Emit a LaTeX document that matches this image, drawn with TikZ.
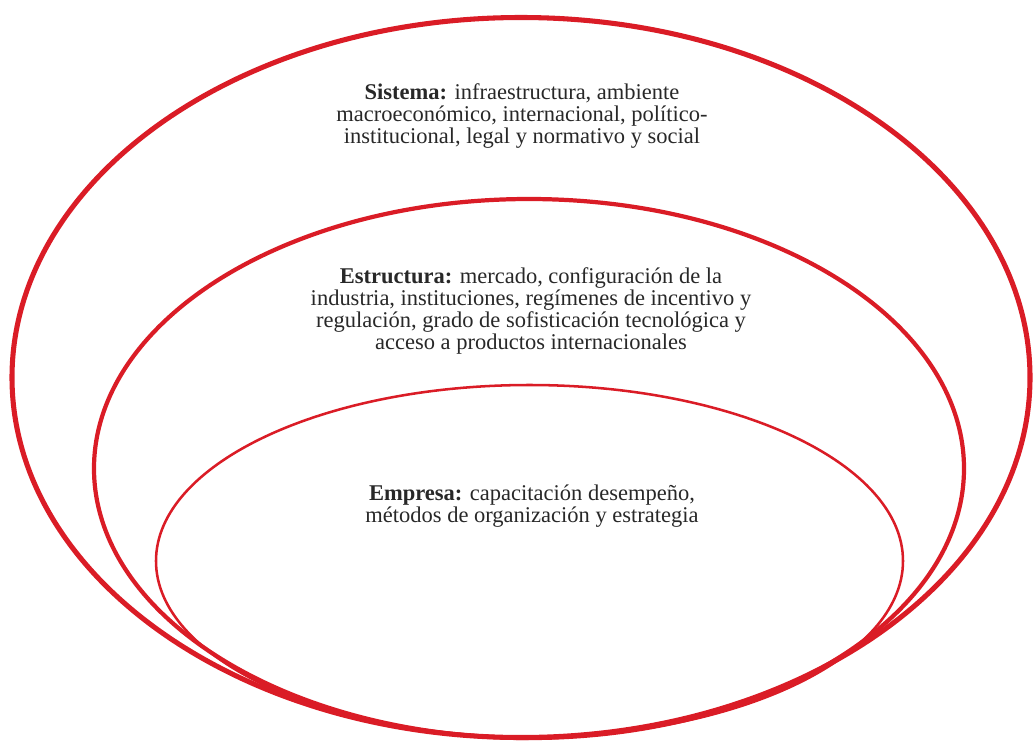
\documentclass[tikz,border=0pt]{standalone}
\usepackage{fontspec}
\setmainfont{Liberation Serif}

\definecolor{anillo}{RGB}{218,28,38}
\definecolor{texto}{RGB}{40,40,40}

\tikzset{
  anillo/.style={draw=anillo},
  capa/.style={align=center, text=texto, inner sep=0pt,
    font=\fontsize{16}{15.6}\selectfont}
}

\begin{document}
\begin{tikzpicture}[x=0.025cm, y=-0.025cm]
  \useasboundingbox (0,0) rectangle (1034,744);
  % the three levels, nested and all touching at the bottom
  \draw[anillo, line width=3.6pt] (521,377.5) ellipse [x radius=509, y radius=360];   %sistema
  \draw[anillo, line width=3pt] (529,468.5) ellipse [x radius=435, y radius=269.5];   %estructura
  \draw[anillo, line width=1.8pt] (529.5,561) ellipse [x radius=373.5, y radius=176]; %empresa
  % one text per level
  \node[capa] (sistema) at (522,116) {\textbf{Sistema:} infraestructura, ambiente\\
    macroeconómico, internacional, político-\\
    institucional, legal y normativo y social};
  \node[capa] (estructura) at (531,311) {\textbf{Estructura:} mercado, configuración de la\\
    industria, instituciones, regímenes de incentivo y\\
    regulación, grado de sofisticación tecnológica y\\
    acceso a productos internacionales};
  \node[capa] (empresa) at (532,506) {\textbf{Empresa:} capacitación desempeño,\\
    métodos de organización y estrategia};
\end{tikzpicture}
\end{document}
